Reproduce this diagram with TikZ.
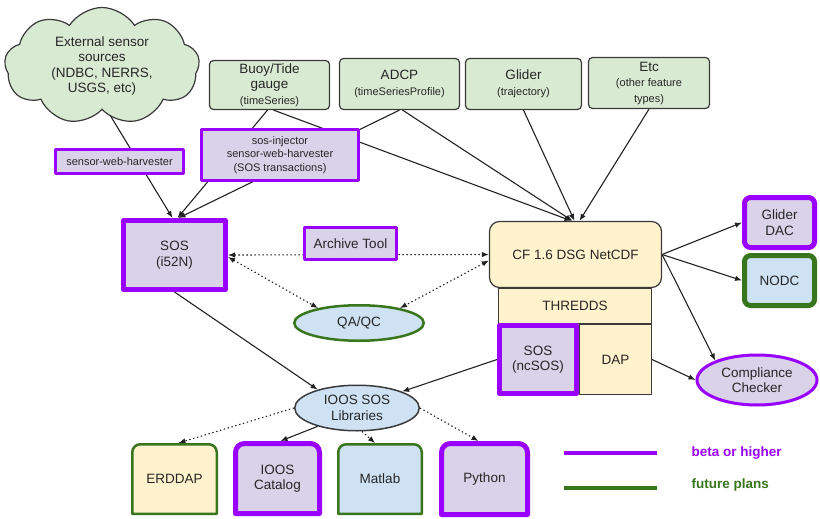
\documentclass[tikz,border=0pt]{standalone}
\usepackage{fontspec}
\setmainfont{Liberation Sans}
\usetikzlibrary{arrows.meta,shapes.geometric,shapes.symbols,calc}
\pgfdeclarelayer{edges}
\pgfdeclarelayer{shapes}
\pgfsetlayers{edges,shapes,main}
\definecolor{vio}{HTML}{9900FF}
\definecolor{ggreen}{HTML}{38761D}
\definecolor{lfill}{HTML}{D9D2E9}
\definecolor{gfill}{HTML}{D9EAD3}
\definecolor{bfill}{HTML}{CFE2F3}
\definecolor{yfill}{HTML}{FFF2CC}
\definecolor{bordergray}{HTML}{3A3A3A}
\definecolor{edgecol}{HTML}{222222}
\newcommand\mainsz{\fontsize{13.5pt}{15.5pt}\selectfont}
\newcommand\smallsz{\fontsize{11pt}{13.5pt}\selectfont}
\newcommand\legsz{\fontsize{13.5pt}{15pt}\selectfont}
\newcommand\toproundbox[5]{%
  \begin{pgfonlayer}{shapes}
  \draw[line width=#2, draw=#4, fill=#5, line join=round]
    ([xshift=#2/2,yshift=#2/2]#1.south west)
    -- ([xshift=#2/2,yshift=-#3-#2/2]#1.north west)
    arc[start angle=180,end angle=90,radius=#3]
    -- ([xshift=-#3-#2/2,yshift=-#2/2]#1.north east)
    arc[start angle=90,end angle=0,radius=#3]
    -- ([xshift=-#2/2,yshift=#2/2]#1.south east) -- cycle;
  \end{pgfonlayer}}
\tikzset{
  x=1pt,y=1pt,
  every node/.style={font=\mainsz, align=center, text=black!85},
  box/.style={rectangle, draw=bordergray, line width=1.2pt, inner sep=0pt, line join=round},
  gbox/.style={box, fill=gfill, rounded corners=4pt},
  pbox/.style={rectangle, draw=vio, fill=lfill, line width=3pt, inner sep=0pt, line join=round},
  pthick/.style={pbox, line width=5pt},
  gthick/.style={rectangle, draw=ggreen, fill=bfill, line width=5pt, inner sep=0pt, line join=round},
  cloudn/.style={cloud, cloud puffs=9, cloud puff arc=115, cloud ignores aspect,
    draw=bordergray, fill=gfill, line width=1.2pt, inner sep=0pt},
  plainbox/.style={rectangle, inner sep=0pt, outer sep=0pt},
  conn/.style={line width=1.1pt, draw=edgecol, -{Latex[length=7pt,width=5.5pt]}},
  dots/.style={conn, dash pattern=on 1.4pt off 2.6pt},
  dotsboth/.style={line width=1.1pt, draw=edgecol, dash pattern=on 1.4pt off 2.6pt,
    {Latex[length=7pt,width=5.5pt]}-{Latex[length=7pt,width=5.5pt]}},
  legline/.style={line width=3.5pt}
}
\begin{document}
\begin{tikzpicture}
\useasboundingbox (0,0) rectangle (820,-519);
% top row
\node[cloudn, minimum width=195, minimum height=117] (cloud) at (102,-66)
  {External sensor\\sources\\(NDBC, NERRS,\\USGS, etc)};
\node[gbox, minimum width=120, minimum height=49] (buoy) at (269.5,-85)
  {Buoy/Tide\\gauge\\{\smallsz(timeSeries)}};
\node[gbox, minimum width=120, minimum height=51] (adcp) at (399.5,-84)
  {ADCP\\{\smallsz(timeSeriesProfile)}};
\node[gbox, minimum width=116, minimum height=51] (glider) at (523.5,-84)
  {Glider\\{\smallsz(trajectory)}};
\node[gbox, minimum width=121, minimum height=51] (etc) at (649,-83)
  {Etc\\{\smallsz(other feature}\\{\smallsz types)}};
% harvesters
\node[pbox, minimum width=128, minimum height=24, font=\smallsz] (harv) at (119.5,-161.5)
  {sensor-web-harvester};
\node[pbox, minimum width=157, minimum height=51, font=\smallsz] (inj) at (280,-155)
  {sos-injector\\sensor-web-harvester\\(SOS transactions)};
% middle
\node[pthick, minimum width=102, minimum height=69] (sos52) at (174.5,-255) {SOS\\(i52N)};
\node[pbox, minimum width=92, minimum height=32] (arch) at (350.5,-243.5) {Archive Tool};
\node[ellipse, draw=ggreen, fill=bfill, line width=2.5pt, inner sep=0pt,
  minimum width=129.5, minimum height=35.5] (qaqc) at (359,-323) {QA/QC};
\node[box, fill=yfill, rounded corners=10pt, minimum width=172, minimum height=66] (cf)
  at (575.5,-254.5) {CF 1.6 DSG NetCDF};
\node[box, fill=yfill, minimum width=153, minimum height=35] (thredds) at (575,-306) {THREDDS};
\node[box, fill=yfill, minimum width=72, minimum height=70] (dap) at (615.5,-359.5) {DAP};
\node[pthick, minimum width=77, minimum height=68] (ncsos) at (538,-359.5) {SOS\\(ncSOS)};
\node[pthick, rounded corners=6pt, minimum width=70, minimum height=50] (gdac)
  at (779.5,-222.5) {Glider\\DAC};
\node[gthick, rounded corners=6pt, minimum width=70, minimum height=50] (nodc)
  at (779.5,-280.5) {NODC};
\node[ellipse, draw=vio, fill=lfill, line width=3pt, inner sep=0pt,
  minimum width=120, minimum height=50] (comp) at (757,-380) {Compliance\\Checker};
\node[ellipse, draw=bordergray, fill=bfill, line width=1.5pt, inner sep=0pt,
  minimum width=124.5, minimum height=45.5] (ioos) at (357,-408) {IOOS SOS\\Libraries};
% bottom row
\node[plainbox, minimum width=87, minimum height=72] (erddap) at (174.5,-479) {ERDDAP};
\node[plainbox, minimum width=89, minimum height=75] (cat) at (277.5,-478.5) {IOOS\\Catalog};
\node[plainbox, minimum width=86, minimum height=72] (mat) at (380,-479) {Matlab};
\node[plainbox, minimum width=91, minimum height=76] (py) at (484.5,-479) {Python};
\toproundbox{erddap}{2.5pt}{8pt}{ggreen}{yfill}
\toproundbox{cat}{5pt}{9pt}{vio}{lfill}
\toproundbox{mat}{2.5pt}{8pt}{ggreen}{bfill}
\toproundbox{py}{5pt}{9pt}{vio}{lfill}
% legend
\coordinate (l1a) at (564,-453); \coordinate (l1b) at (657,-453);
\coordinate (l2a) at (564,-488); \coordinate (l2b) at (657,-488);
\draw[legline, vio] (l1a) -- (l1b);
\draw[legline, ggreen] (l2a) -- (l2b);
\node[anchor=west, text=vio, font=\legsz\bfseries] (leg1) at (688,-453) {beta or higher};
\node[anchor=west, text=ggreen, font=\legsz\bfseries] (leg2) at (688,-485) {future plans};
% connectors
\begin{pgfonlayer}{edges}
\draw[conn] ([xshift=5pt]cloud.south) -- ([xshift=-2pt]sos52.north);
\draw[conn] ([xshift=-2pt]buoy.south) -- ([xshift=3pt]sos52.north);
\draw[conn] (adcp.south) -- ([xshift=4pt]sos52.north);
\draw[conn] ([xshift=4pt]buoy.south) -- ([xshift=-4pt]cf.north);
\draw[conn] ([xshift=3pt]adcp.south) -- ([xshift=-3pt]cf.north);
\draw[conn] (glider.south) -- ([xshift=-1pt]cf.north);
\draw[conn] (etc.south) -- ([xshift=4pt]cf.north);
\draw[dotsboth] (sos52.east) -- (cf.west);
\draw[dotsboth] ([yshift=-2pt]sos52.east) -- (qaqc.160);
\draw[dotsboth] ([yshift=-6pt]cf.west) -- (qaqc.20);
\draw[conn] (cf.east) -- (gdac.west);
\draw[conn] (cf.east) -- (nodc.west);
\draw[conn] (cf.east) -- (comp.155);
\draw[conn] (dap.east) -- (comp.west);
\draw[conn] (ncsos.west) -- (ioos.20);
\draw[conn] (sos52.south) -- (ioos.155);
\draw[dots] (ioos.west) -- ([xshift=4pt]erddap.north);
\draw[conn] (ioos.205) -- ([xshift=3pt]cat.north);
\draw[dots] ([xshift=5pt]ioos.south) -- ([xshift=-5pt]mat.north);
\draw[dots] (ioos.east) -- ([xshift=-6pt]py.north);
\end{pgfonlayer}
\end{tikzpicture}
\end{document}
